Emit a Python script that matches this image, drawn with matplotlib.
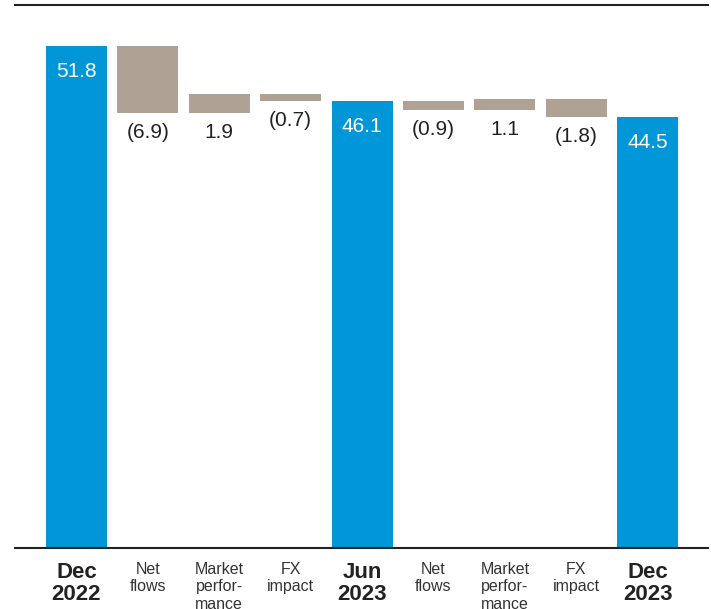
import numpy as np
import matplotlib.pyplot as plt

plt.rcParams['font.family'] = ['Liberation Sans', 'DejaVu Sans']

# categories along the x axis
labels = ['Dec\n2022', 'Net\nflows', 'Market\nperfor-\nmance', 'FX\nimpact',
          'Jun\n2023', 'Net\nflows', 'Market\nperfor-\nmance', 'FX\nimpact',
          'Dec\n2023']
# 'total' bars are absolute, the rest are changes
kinds = ['total', 'change', 'change', 'change', 'total',
         'change', 'change', 'change', 'total']
values = [51.8, -6.9, 1.9, -0.7, 46.1, -0.9, 1.1, -1.8, 44.5]

blue = '#0096D7'
grey = '#AFA194'
ink = '#222222'

fig = plt.figure(figsize=(7.11, 6.09), dpi=100)
ax = fig.add_axes([15 / 711, 1 - 548 / 609, 693 / 711, 543 / 609])

x = np.arange(len(values))
width = 0.855
level = 0.0
for i, (kind, v) in enumerate(zip(kinds, values)):
    if kind == 'total':
        ax.bar(x[i], v, width=width, color=blue, zorder=2)
        ax.annotate(f'{v:.1f}', (x[i], v), xytext=(0, -26),
                    textcoords='offset pixels', ha='center', va='center',
                    color='white', fontsize=15)
        level = v
    else:
        new = level + v
        lo, hi = min(level, new), max(level, new)
        ax.bar(x[i], hi - lo, bottom=lo, width=width, color=grey, zorder=2)
        txt = f'({abs(v):.1f})' if v < 0 else f'{v:.1f}'
        ax.annotate(txt, (x[i], lo), xytext=(0, -10),
                    textcoords='offset pixels', ha='center', va='top',
                    color=ink, fontsize=15)
        level = new

ax.set_xlim(-0.86, 8.845)
ax.set_ylim(0, 56.0)
ax.set_yticks([])
ax.set_xticks(x)
ax.set_xticklabels(labels)
ax.tick_params(axis='x', length=0, pad=10)
for lab, kind in zip(ax.get_xticklabels(), kinds):
    if kind == 'total':
        lab.set_fontsize(16)
        lab.set_fontweight('bold')
        lab.set_linespacing(1.1)
        lab.set_color(ink)
    else:
        lab.set_fontsize(11.5)
        lab.set_color('#333333')

for side in ['left', 'right']:
    ax.spines[side].set_visible(False)
for side in ['top', 'bottom']:
    ax.spines[side].set_color(ink)
    ax.spines[side].set_linewidth(1.5)
    ax.spines[side].set_zorder(3)

plt.savefig('out.png', dpi=100)
plt.close()
